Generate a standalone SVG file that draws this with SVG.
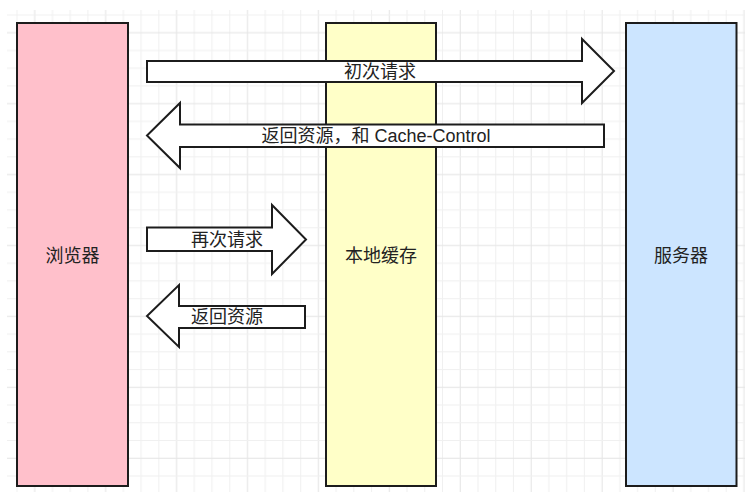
<svg xmlns="http://www.w3.org/2000/svg" width="754" height="497" viewBox="0 0 754 497">
<style>
.node{stroke:#1c1c1c;stroke-width:2}
.arrow{fill:#ffffff;stroke:#1c1c1c;stroke-width:2;stroke-linejoin:miter}
.lbl{font-family:"Liberation Sans","Noto Sans CJK SC",sans-serif;font-size:18px;fill:#222222;text-anchor:middle;dominant-baseline:central}
</style>
<defs>
<pattern id="grid" patternUnits="userSpaceOnUse" x="16.5" y="14.5" width="70.92" height="70.92">
<rect x="0" y="0" width="1" height="70.92" fill="#f0f0f0"/>
<rect x="17.73" y="0" width="1" height="70.92" fill="#e4e4e4"/>
<rect x="35.46" y="0" width="1" height="70.92" fill="#f0f0f0"/>
<rect x="53.19" y="0" width="1" height="70.92" fill="#f0f0f0"/>
<rect x="0" y="0" width="70.92" height="1" fill="#f0f0f0"/>
<rect x="0" y="17.73" width="70.92" height="1" fill="#e4e4e4"/>
<rect x="0" y="35.46" width="70.92" height="1" fill="#f0f0f0"/>
<rect x="0" y="53.19" width="70.92" height="1" fill="#f0f0f0"/>
</pattern>
</defs>
<rect x="0" y="0" width="754" height="497" fill="#ffffff"/>
<rect x="7" y="10" width="738" height="482" fill="url(#grid)"/>
<g id="browser">
<rect class="node" x="17" y="23" width="111" height="463" fill="#ffc0cb"/>
<text class="lbl" x="72.5" y="256">浏览器</text>
</g>
<g id="cache">
<rect class="node" x="326" y="23" width="110" height="463" fill="#ffffc8"/>
<text class="lbl" x="381" y="256">本地缓存</text>
</g>
<g id="server">
<rect class="node" x="626" y="23" width="110.5" height="463" fill="#cce5ff"/>
<text class="lbl" x="681" y="256">服务器</text>
</g>
<g id="connectors">
<g id="req1">
<polygon class="arrow" points="147,61 582,61 582,39 614,71 582,103 582,82 147,82"/>
<text class="lbl" x="380" y="72">初次请求</text>
</g>
<g id="resp1">
<polygon class="arrow" points="604,124.5 180,124.5 180,103 147,135.5 180,168 180,147 604,147"/>
<text class="lbl" x="376" y="136">返回资源，和 Cache-Control</text>
</g>
<g id="req2">
<polygon class="arrow" points="147,227.5 272,227.5 272,205 306,239.5 272,274 272,251 147,251"/>
<text class="lbl" x="227" y="240">再次请求</text>
</g>
<g id="resp2">
<polygon class="arrow" points="305,306 179,306 179,285 147,316 179,347 179,328 305,328"/>
<text class="lbl" x="227" y="317">返回资源</text>
</g>
</g>
</svg>
